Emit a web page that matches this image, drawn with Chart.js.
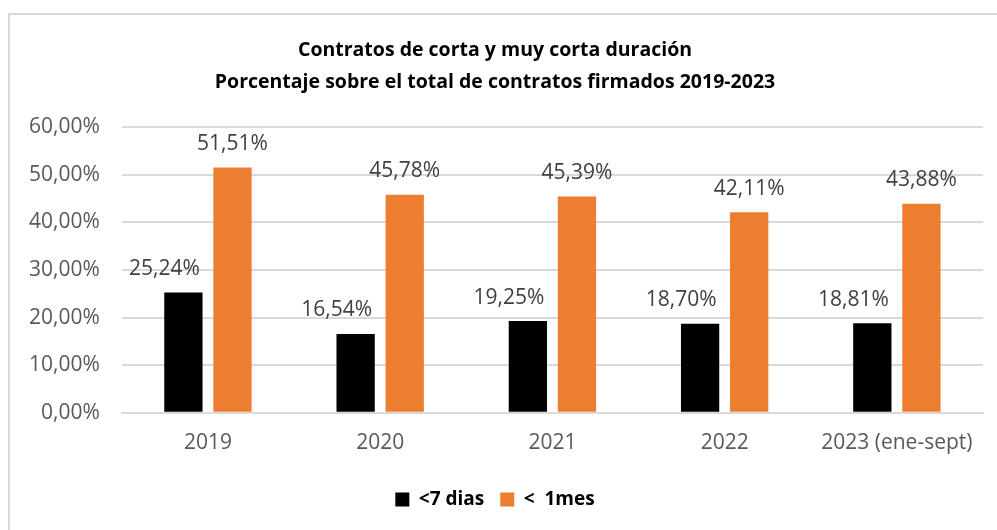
<!DOCTYPE html>
<html><head><meta charset="utf-8">
<script src="https://cdn.jsdelivr.net/npm/chart.js@4/dist/chart.umd.min.js"></script>
<style>
html,body{margin:0;padding:0;background:#fff;overflow:hidden;}
#frame{position:absolute;left:8px;top:13px;width:1010px;height:540px;border:2px solid #d9d9d9;box-sizing:border-box;}
#wrap{position:absolute;left:0;top:0;width:997px;height:530px;}
</style></head>
<body>
<div id="frame"></div>
<div id="wrap"><canvas id="c" width="997" height="530"></canvas></div>
<script>
const categories = ["2019","2020","2021","2022","2023 (ene-sept)"];
const seriesNames = ["<7 dias","<  1mes"];
const menos7dias = [25.24, 16.54, 19.25, 18.70, 18.81];
const menos1mes = [51.51, 45.78, 45.39, 42.11, 43.88];
const titleLines = ["Contratos de corta y muy corta duración","Porcentaje sobre el total de contratos firmados 2019-2023"];

const fmt = v => v.toFixed(2).replace('.', ',') + '%';
const FONT = "'Open Sans', 'Noto Sans', sans-serif";

const labelPlugin = {
  id: 'barLabels',
  afterDatasetsDraw(chart, args, opts) {
    const ctx = chart.ctx;
    ctx.save();
    ctx.font = "21px " + FONT;
    ctx.fillStyle = '#404040';
    ctx.textAlign = 'center';
    ctx.textBaseline = 'bottom';
    chart.data.datasets.forEach((ds, di) => {
      const meta = chart.getDatasetMeta(di);
      const dx = (opts.shift || [])[di] || 0;
      meta.data.forEach((bar, i) => {
        ctx.fillText(fmt(ds.data[i]), bar.x + dx, bar.y - 13);
      });
    });
    ctx.restore();
  }
};

new Chart(document.getElementById('c'), {
  type: 'bar',
  data: {
    labels: categories,
    datasets: [
      {label: seriesNames[0], data: menos7dias, backgroundColor: '#000000', categoryPercentage: 0.57, barPercentage: 0.78},
      {label: seriesNames[1], data: menos1mes, backgroundColor: '#ED7D31', categoryPercentage: 0.57, barPercentage: 0.78}
    ]
  },
  plugins: [labelPlugin],
  options: {
    responsive: false,
    animation: false,
    layout: {padding: {left: 7, right: 14, top: 0, bottom: 11}},
    scales: {
      y: {
        min: 0, max: 60,
        ticks: {stepSize: 10, padding: 22, color: '#595959', font: {family: FONT, size: 21}, callback: v => fmt(v)},
        grid: {color: '#d9d9d9', lineWidth: 2, drawTicks: false},
        border: {display: false}
      },
      x: {
        ticks: {padding: 18, color: '#595959', font: {family: FONT, size: 21}},
        grid: {display: false, drawTicks: false},
        border: {display: true, color: '#d9d9d9', width: 2}
      }
    },
    plugins: {
      title: {
        display: true, text: titleLines, color: '#000',
        font: {family: FONT, size: 19.5, weight: 'bold', lineHeight: 1.64},
        padding: {top: 34, bottom: 29}
      },
      legend: {
        position: 'bottom',
        labels: {boxWidth: 14, boxHeight: 14, padding: 16, color: '#000', font: {family: FONT, size: 19, weight: 'bold'}}
      },
      tooltip: {enabled: false},
      barLabels: {shift: [-19, 0]}
    }
  }
});
</script>
</body></html>
